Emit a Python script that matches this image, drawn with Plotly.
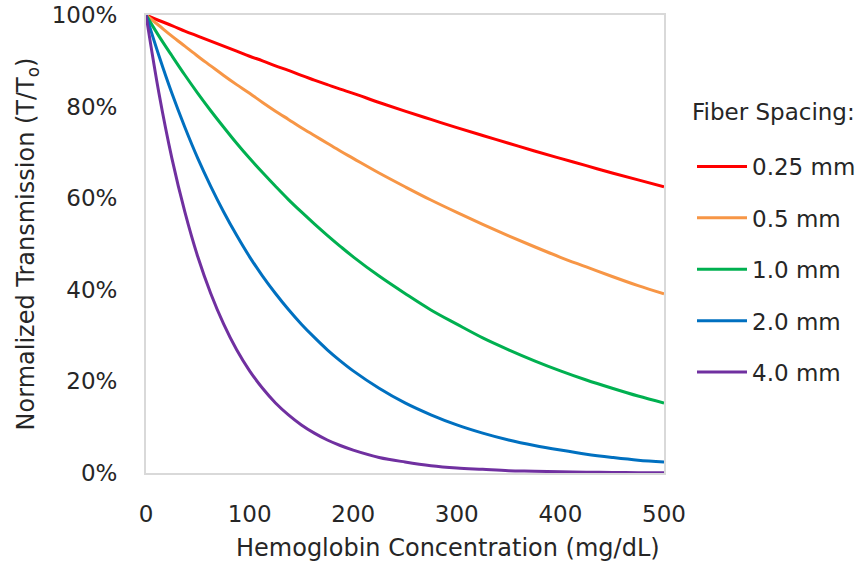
import plotly.graph_objects as go

# Hemoglobin concentration (mg/dL)
hemoglobin = [0, 12.5, 25, 37.5, 50, 62.5, 75, 87.5, 100, 112.5, 125, 137.5, 150, 162.5,
              175, 187.5, 200, 225, 250, 275, 300, 325, 350, 375, 400, 425, 450, 475, 500]

# Normalized transmission (T/To) per fiber spacing
t_025 = [1.000, 0.988, 0.977, 0.965, 0.954, 0.943, 0.932, 0.921, 0.910, 0.900, 0.889, 0.879,
         0.868, 0.858, 0.848, 0.838, 0.829, 0.809, 0.790, 0.772, 0.754, 0.737, 0.720, 0.703,
         0.687, 0.671, 0.655, 0.640, 0.625]
t_05 = [1.000, 0.977, 0.954, 0.932, 0.910, 0.889, 0.868, 0.848, 0.829, 0.809, 0.790, 0.772,
        0.754, 0.737, 0.720, 0.703, 0.687, 0.655, 0.625, 0.596, 0.569, 0.543, 0.518, 0.494,
        0.471, 0.450, 0.429, 0.409, 0.391]
t_10 = [1.000, 0.954, 0.911, 0.869, 0.829, 0.791, 0.755, 0.720, 0.687, 0.656, 0.626, 0.597,
        0.570, 0.544, 0.519, 0.495, 0.472, 0.430, 0.392, 0.356, 0.325, 0.295, 0.269, 0.245,
        0.223, 0.203, 0.185, 0.168, 0.153]
t_20 = [1.000, 0.911, 0.829, 0.755, 0.687, 0.626, 0.570, 0.519, 0.472, 0.430, 0.392, 0.357,
        0.325, 0.296, 0.269, 0.245, 0.223, 0.185, 0.153, 0.127, 0.105, 0.087, 0.072, 0.060,
        0.050, 0.041, 0.034, 0.028, 0.024]
t_40 = [1.000, 0.829, 0.687, 0.570, 0.472, 0.392, 0.325, 0.269, 0.223, 0.185, 0.153, 0.127,
        0.105, 0.087, 0.072, 0.060, 0.050, 0.034, 0.024, 0.016, 0.011, 0.008, 0.005, 0.004,
        0.0025, 0.0017, 0.0012, 0.0008, 0.0006]

series_names = ["0.25 mm", "0.5 mm", "1.0 mm", "2.0 mm", "4.0 mm"]
series_values = [t_025, t_05, t_10, t_20, t_40]
series_colors = ["#FF0000", "#F79646", "#00B050", "#0070C0", "#7030A0"]

x_ticks = [0, 100, 200, 300, 400, 500]
y_ticks = [0, 0.2, 0.4, 0.6, 0.8, 1.0]
y_tick_labels = ["0%", "20%", "40%", "60%", "80%", "100%"]

FONT = "DejaVu Sans"
TXT = "#262626"
FS = 23
FS_TITLE = 24

fig = go.Figure()
for name, vals, col in zip(series_names, series_values, series_colors):
    fig.add_trace(go.Scatter(
        x=hemoglobin, y=vals, mode="lines", name=name, legendgroup=name,
        line=dict(color=col, width=3, shape="spline", smoothing=1.0),
        hoverinfo="skip",
    ))

axis_line = "#D9D9D9"
fig.update_layout(
    width=863, height=567,
    margin=dict(l=146, r=199, t=15, b=94),
    paper_bgcolor="white", plot_bgcolor="white",
    font=dict(family=FONT, size=FS, color=TXT),
    showlegend=True,
    legend=dict(
        xref="container", yref="container",
        x=692 / 863, xanchor="left",
        y=(567 - 145) / 567, yanchor="top",
        font=dict(family=FONT, size=FS, color=TXT),
        tracegroupgap=18.5,
        bgcolor="rgba(0,0,0,0)",
        itemwidth=50,
    ),
    annotations=[
        dict(text="Fiber Spacing:", xref="paper", yref="paper",
             x=1.05, y=0.788, xanchor="left", yanchor="middle", showarrow=False,
             font=dict(family=FONT, size=FS, color=TXT)),
        dict(text="Hemoglobin Concentration (mg/dL)", xref="paper", yref="paper",
             x=(448 - 146) / 518, y=(473 - 548) / 458, xanchor="center", yanchor="middle",
             showarrow=False, font=dict(family=FONT, size=FS_TITLE, color=TXT)),
    ],
    xaxis=dict(
        range=[0, 500], tickvals=x_ticks, ticktext=[str(v) for v in x_ticks],
        showgrid=False, zeroline=False, showline=True, linecolor=axis_line,
        linewidth=2, mirror=True, ticks="", ticklabelstandoff=19, automargin=False,
        tickfont=dict(family=FONT, size=FS, color=TXT),
    ),
    yaxis=dict(
        range=[0, 1], tickvals=y_ticks, ticktext=y_tick_labels,
        showgrid=False, zeroline=False, showline=True, linecolor=axis_line,
        linewidth=2, mirror=True, ticks="", ticklabelstandoff=22, automargin=False,
        tickfont=dict(family=FONT, size=FS, color=TXT),
        title=dict(text="Normalized Transmission (T/T<sub>o</sub>)", standoff=10,
                   font=dict(family=FONT, size=FS_TITLE, color=TXT)),
    ),
)

fig.write_html("out.html", config={"displayModeBar": False},
               post_script="document.body.style.margin='0';")
